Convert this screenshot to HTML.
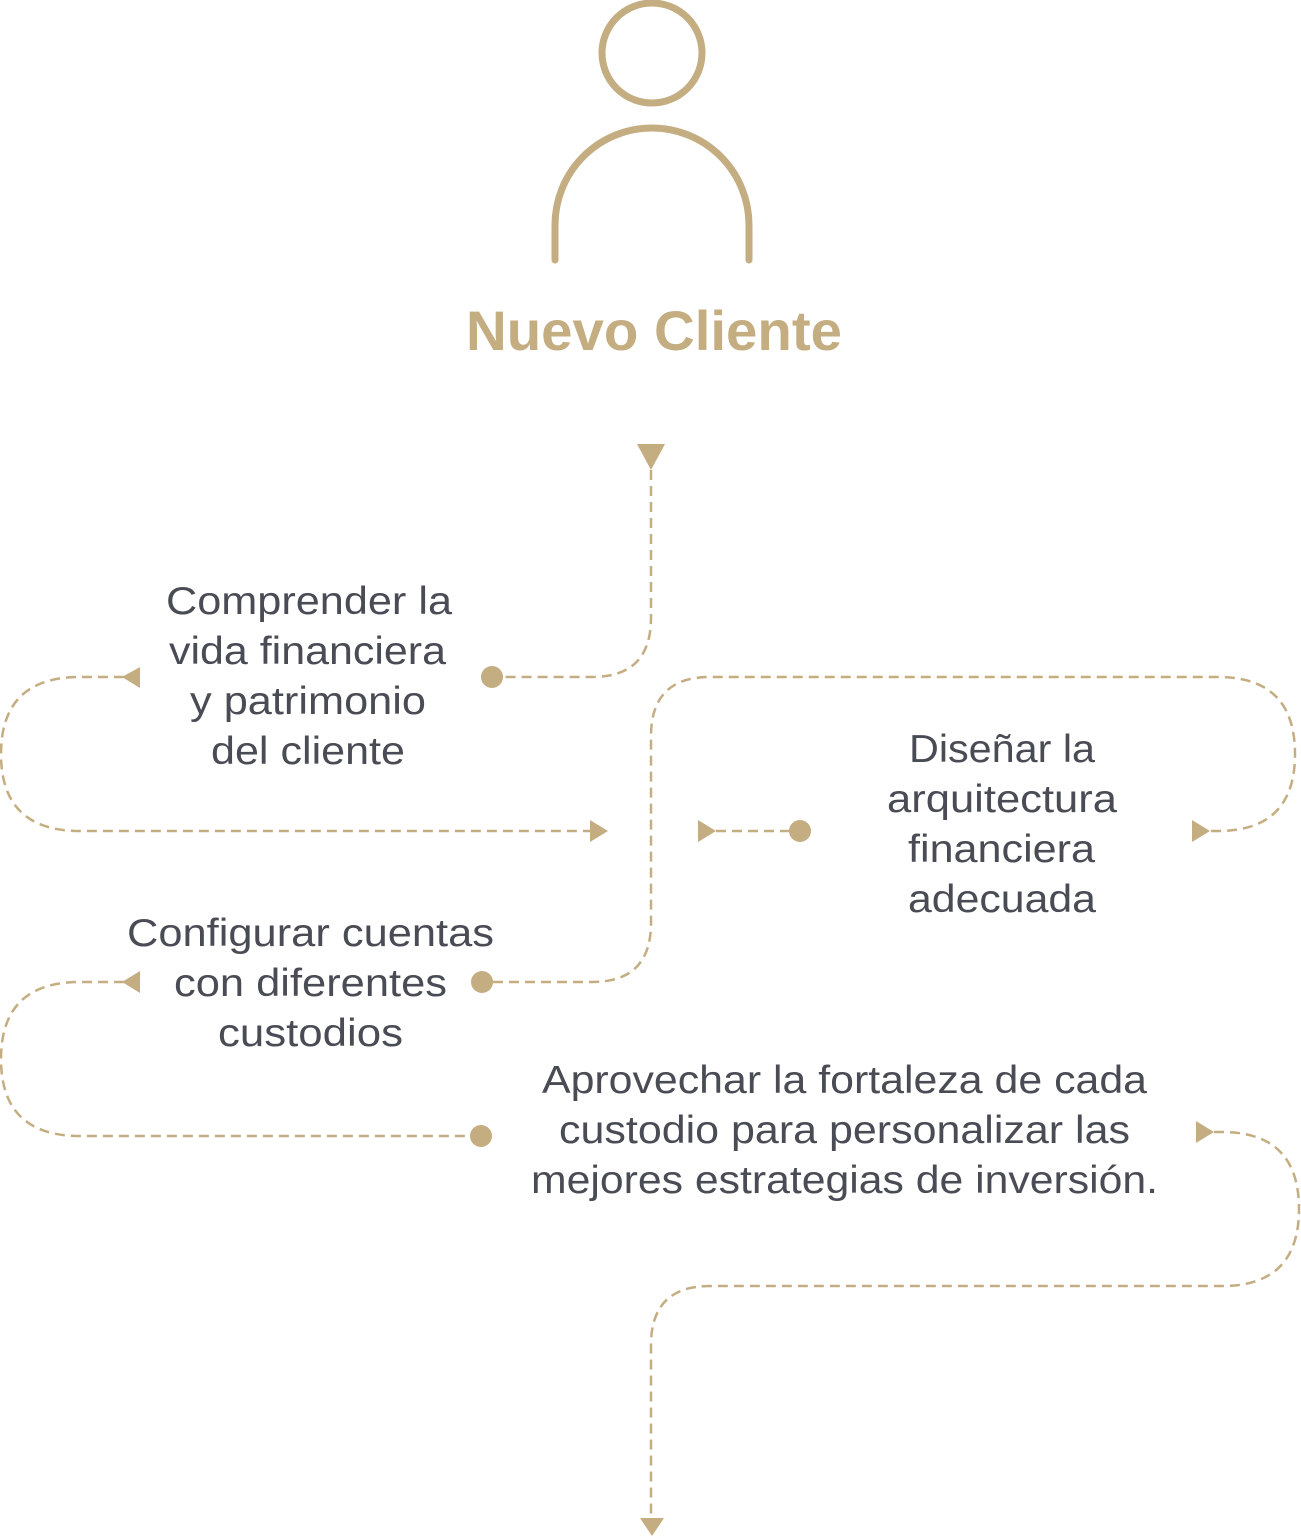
<!DOCTYPE html>
<html><head><meta charset="utf-8"><style>
html,body{margin:0;padding:0;background:#fff;}
svg{display:block;}
text{font-family:"Liberation Sans",sans-serif;}
</style></head><body>
<svg width="1301" height="1538" viewBox="0 0 1301 1538" xmlns="http://www.w3.org/2000/svg">
<g fill="none" stroke="#c4ad80" stroke-width="7" stroke-linecap="round">
<circle cx="652" cy="53" r="50"/>
<path d="M555 260 V225 A97 97 0 0 1 749 225 V260"/>
</g>
<text x="654" y="350" font-size="56" font-weight="bold" fill="#c4ad80" text-anchor="middle" textLength="376" lengthAdjust="spacingAndGlyphs">Nuevo Cliente</text>
<g fill="none" stroke="#c4ad80" stroke-width="2.5" stroke-dasharray="10 6">
<path d="M651 470 V618 Q651 677 592 677 H500"/>
<path d="M140 677 H80 Q1 677 1 754 Q1 831 80 831 H592"/>
<path d="M493 982 H592 Q651 982 651 923 V736 Q651 677 710 677 H1218 Q1295 677 1295 754 Q1295 831 1218 831 H1210"/>
<path d="M716 831 H790"/>
<path d="M140 982 H80 Q1 982 1 1059 Q1 1136 80 1136 H470"/>
<path d="M1214 1132 H1222 Q1299 1132 1299 1209 Q1299 1286 1222 1286 H710 Q651 1286 651 1345 V1518"/>
</g>
<g fill="#c4ad80">
<polygon points="637,444 665,444 651,470"/>
<circle cx="492" cy="677" r="11"/>
<polygon points="140,667 140,688 122,677"/>
<polygon points="590,820 590,842 608,831"/>
<polygon points="698,820 698,842 716,831"/>
<circle cx="800" cy="831" r="11"/>
<polygon points="1192,820 1192,842 1210,831"/>
<circle cx="482" cy="982" r="11"/>
<polygon points="140,971 140,993 122,982"/>
<circle cx="481" cy="1136" r="11"/>
<polygon points="1196,1121 1196,1143 1214,1132"/>
<polygon points="640,1518 664,1518 652,1536"/>
</g>
<g font-size="39" fill="#4a4c55" text-anchor="middle" lengthAdjust="spacingAndGlyphs">
<text x="309" y="614" textLength="286" lengthAdjust="spacingAndGlyphs">Comprender la</text>
<text x="307.5" y="664" textLength="277" lengthAdjust="spacingAndGlyphs">vida financiera</text>
<text x="308" y="714" textLength="236" lengthAdjust="spacingAndGlyphs">y patrimonio</text>
<text x="308" y="764" textLength="194" lengthAdjust="spacingAndGlyphs">del cliente</text>
<text x="1002" y="762" textLength="186" lengthAdjust="spacingAndGlyphs">Diseñar la</text>
<text x="1002" y="812" textLength="230" lengthAdjust="spacingAndGlyphs">arquitectura</text>
<text x="1001.5" y="862" textLength="187" lengthAdjust="spacingAndGlyphs">financiera</text>
<text x="1002" y="912" textLength="188" lengthAdjust="spacingAndGlyphs">adecuada</text>
<text x="310.5" y="946" textLength="367" lengthAdjust="spacingAndGlyphs">Configurar cuentas</text>
<text x="310.5" y="996" textLength="273" lengthAdjust="spacingAndGlyphs">con diferentes</text>
<text x="310.5" y="1046" textLength="185" lengthAdjust="spacingAndGlyphs">custodios</text>
<text x="844.5" y="1093" textLength="605" lengthAdjust="spacingAndGlyphs">Aprovechar la fortaleza de cada</text>
<text x="844.5" y="1143" textLength="571" lengthAdjust="spacingAndGlyphs">custodio para personalizar las</text>
<text x="844.5" y="1193" textLength="627" lengthAdjust="spacingAndGlyphs">mejores estrategias de inversión.</text>
</g>
</svg>
</body></html>
